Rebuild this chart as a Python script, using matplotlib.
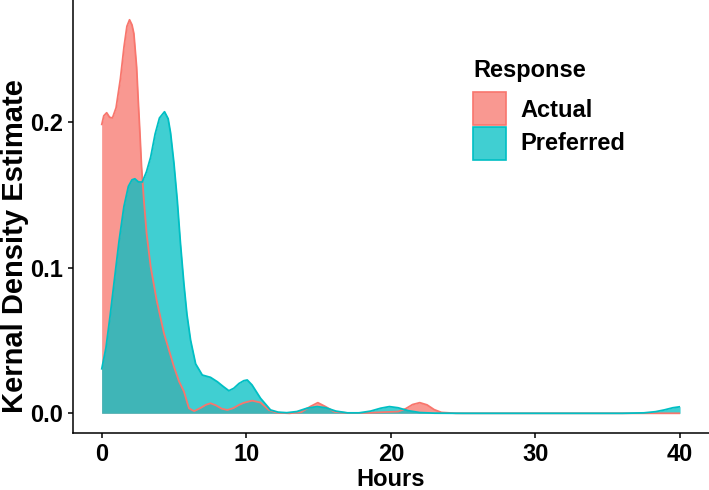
import numpy as np
import matplotlib
matplotlib.use("Agg")
import matplotlib.pyplot as plt
from matplotlib.colors import to_rgba
from matplotlib.patches import Rectangle

plt.rcParams.update({
    "font.family": "Liberation Sans",
    "font.weight": "bold",
    "font.size": 17,
})

# density curves (hours, kernel density)
actual_h = [0.0, 0.15, 0.35, 0.55, 0.75, 1.0, 1.3, 1.55, 1.75, 1.93, 2.1, 2.23,
            2.42, 2.53, 2.65, 2.76, 2.92, 3.11, 3.39, 3.8, 4.31, 5.0, 5.35, 5.69,
            6.04, 6.4, 6.9, 7.2, 7.53, 7.9, 8.3, 8.69, 9.1, 9.5, 9.83, 10.4,
            10.99, 11.56, 12.1, 13.0, 13.8, 14.4, 14.95, 15.5, 16.1, 17.0, 18.5,
            19.5, 20.5, 21.0, 21.5, 22.0, 22.5, 23.0, 23.5, 24.5, 40.0]
actual_d = [0.198, 0.2045, 0.2066, 0.2035, 0.203, 0.21, 0.23, 0.252, 0.266, 0.2705,
            0.267, 0.261, 0.238, 0.2153, 0.1924, 0.1695, 0.1466, 0.1237, 0.1008,
            0.0779, 0.055, 0.032, 0.022, 0.015, 0.0034, 0.0015, 0.004, 0.0058,
            0.0069, 0.0055, 0.0032, 0.0023, 0.0035, 0.0058, 0.0072, 0.0087,
            0.0074, 0.0023, 0.0004, 0.0, 0.0008, 0.0045, 0.0073, 0.0045, 0.001,
            0.0002, 0.0003, 0.0008, 0.0012, 0.003, 0.006, 0.0073, 0.0058, 0.0025,
            0.0006, 0.0, 0.0]

pref_h = [0.0, 0.3, 0.6, 0.85, 1.2, 1.54, 1.85, 2.1, 2.3, 2.55, 2.81, 3.1, 3.39,
          3.7, 4.0, 4.35, 4.6, 4.77, 5.0, 5.23, 5.45, 5.69, 5.9, 6.15, 6.5, 6.96,
          7.53, 8.0, 8.4, 8.8, 9.14, 9.5, 9.83, 10.07, 10.4, 10.99, 11.68, 12.2,
          12.8, 13.5, 14.2, 14.9, 15.5, 16.2, 17.0, 17.8, 18.6, 19.3, 19.9, 20.5,
          21.2, 22.0, 23.0, 25.0, 30.0, 36.0, 37.5, 38.3, 38.9, 39.5, 40.0]
pref_d = [0.03, 0.045, 0.068, 0.089, 0.118, 0.142, 0.156, 0.1605, 0.1612, 0.159,
          0.159, 0.166, 0.176, 0.192, 0.203, 0.2073, 0.2025, 0.1926, 0.172, 0.1466,
          0.117, 0.089, 0.068, 0.0504, 0.034, 0.0263, 0.0247, 0.0217, 0.0185,
          0.0155, 0.0172, 0.0205, 0.0224, 0.0229, 0.0195, 0.0103, 0.0023, 0.0008,
          0.0004, 0.0012, 0.0035, 0.0046, 0.0038, 0.0015, 0.0003, 0.0003, 0.0015,
          0.0035, 0.0046, 0.0038, 0.0018, 0.0005, 0.0001, 0.0, 0.0, 0.0, 0.0003,
          0.0011, 0.0023, 0.0038, 0.0045]

series = [("Actual", actual_h, actual_d, "#F8766D"),
          ("Preferred", pref_h, pref_d, "#00BFC4")]

W, H = 709, 490
fig = plt.figure(figsize=(W / 100, H / 100), dpi=100)
ax = fig.add_axes([72.7 / W, 1 - 433.3 / H, 1 - 72.7 / W, 433.3 / H])

for name, xs, ys, col in series:
    ax.fill_between(xs, 0, ys, color=col, alpha=0.75, lw=0)
    ax.plot(xs, ys, color=col, lw=1.3, solid_capstyle="butt")

ax.set_xlim(-2, 42)
ax.set_ylim(-0.01375, 0.2841)
ax.set_xticks([0, 10, 20, 30, 40])
ax.set_yticks([0.0, 0.1, 0.2])
ax.set_yticklabels(["0.0", "0.1", "0.2"])

for s in ("top", "right"):
    ax.spines[s].set_visible(False)
for s in ("left", "bottom"):
    ax.spines[s].set_linewidth(1.1)
ax.tick_params(length=3.6, width=1.1, pad=3.5, labelsize=17, colors="black")

ax.set_xlabel("Hours", fontsize=17, fontweight="bold")
ax.set_ylabel("Kernal Density Estimate", fontsize=21, fontweight="bold")
ax.xaxis.set_label_coords(0.5, -0.079)
ax.yaxis.set_label_coords(-0.069, 0.433)

# legend, ggplot style
fig.text(473 / W, 1 - 76.7 / H, "Response", fontsize=17, fontweight="bold",
         ha="left", va="baseline")
keys = [(91.7, 116.7), (126.7, 150.0)]
for (name, _, _, col), (ktop, base) in zip(series, keys):
    fig.add_artist(Rectangle((472.7 / W, 1 - (ktop + 33) / H), 33.3 / W, 33 / H,
                             transform=fig.transFigure, facecolor=to_rgba(col, 0.75),
                             edgecolor=col, lw=1.2))
    fig.text(520 / W, 1 - base / H, name, fontsize=17, fontweight="bold",
             ha="left", va="baseline")

fig.savefig("out.png", dpi=100)
